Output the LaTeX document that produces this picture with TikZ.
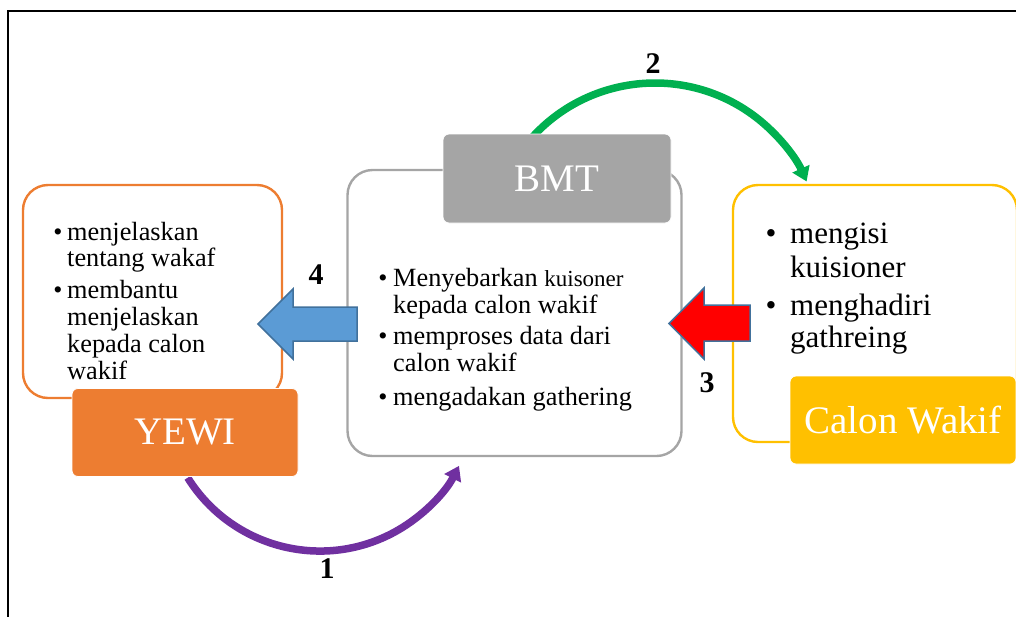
\documentclass[tikz,border=0pt]{standalone}
\usepackage{fontspec}
\setmainfont{Liberation Serif}
\usetikzlibrary{arrows.meta}
\definecolor{cOrange}{HTML}{ED7D31}
\definecolor{cGray}{HTML}{A5A5A5}
\definecolor{cYellow}{HTML}{FFC000}
\definecolor{cPurple}{HTML}{7030A0}
\definecolor{cGreen}{HTML}{00B050}
\definecolor{cBlue}{HTML}{5B9BD5}
\definecolor{cEdge}{HTML}{41719C}
\definecolor{cRed}{HTML}{FF0000}
\begin{document}
\begin{tikzpicture}[x=1pt,y=-1pt,
  outlinebox/.style={draw=#1, line width=2.4pt, fill=white, rounded corners=25pt, inner sep=0pt},
  labelbox/.style={fill=#1, draw=white, line width=0.8pt, rounded corners=6pt, inner sep=0pt,
     minimum width=226pt, minimum height=88pt, text=white, font=\fontsize{39}{44}\selectfont},
  curvearrow/.style={draw=#1, line width=7.5pt, -{Triangle[length=14pt,width=18pt]}},
  blockarrow/.style={fill=#1, draw=cEdge, line width=1.5pt, line join=miter},
  ltext/.style={anchor=base west, inner sep=0pt, font=\fontsize{26.3}{28}\selectfont},
  ctext/.style={anchor=base west, inner sep=0pt, font=\fontsize{26.3}{28}\selectfont},
  rtext/.style={anchor=base west, inner sep=0pt, font=\fontsize{31}{33}\selectfont},
  lbul/.style={anchor=base, inner sep=0pt, font=\fontsize{26}{28}\selectfont},
  cbul/.style={anchor=base, inner sep=0pt, font=\fontsize{26}{28}\selectfont},
  rbul/.style={anchor=base, inner sep=0pt, font=\fontsize{31}{33}\selectfont},
  numlabel/.style={inner sep=0pt, font=\fontsize{30}{32}\selectfont\bfseries}
]
\useasboundingbox (0,0) rectangle (1016,616);
\clip (0,0) rectangle (1016,616);
% frame
\coordinate (fTL) at (8,11);
\coordinate (fTR) at (1020,11);
\coordinate (fBL) at (8,620);
\draw[line width=2.6pt] (fTR) -- (fTL) -- (fBL);

% curved arrows
\coordinate (p1s) at (187.7,477.7);
\draw[curvearrow=cPurple] (p1s) arc[start angle=148, end angle=27, radius=156];
\coordinate (p2s) at (527.8,142.3);
\draw[curvearrow=cGreen] (p2s) arc[start angle=-140, end angle=-24, radius=166];

% outline boxes
\node[outlinebox=cOrange, minimum width=259pt, minimum height=213pt] (leftbox) at (152.5,291.5) {};
\node[outlinebox=cGray, minimum width=334pt, minimum height=286pt] (centerbox) at (514.5,313) {};
\node[outlinebox=cYellow, minimum width=284pt, minimum height=257pt] (rightbox) at (875,313.5) {};

% label boxes
\node[labelbox=cOrange] (yewi) at (185,432.5) {YEWI};
\node[labelbox=cGray, minimum width=228pt, minimum height=89pt] (bmt) at (557,178.5) {BMT};
\node[labelbox=cYellow] (calon) at (903,420) {Calon Wakif};

% block arrows
\coordinate (a4tip) at (258,324);
\draw[blockarrow=cBlue] (a4tip) -- (293,289) -- (293,307) -- (357,307) -- (357,341) -- (293,341) -- (293,359) -- cycle;
\coordinate (a3tip) at (669,323.5);
\draw[blockarrow=cRed] (a3tip) -- (704,288) -- (704,305) -- (750,305) -- (750,341) -- (704,341) -- (704,359) -- cycle;

% left box text
\node[lbul] (lb1) at (58,240) {•};
\node[ltext] (lt1) at (67,240) {menjelaskan};
\node[ltext] (lt2) at (67,266) {tentang wakaf};
\node[lbul] (lb2) at (58,298) {•};
\node[ltext] (lt3) at (67,298) {membantu};
\node[ltext] (lt4) at (67,325) {menjelaskan};
\node[ltext] (lt5) at (67,352) {kepada calon};
\node[ltext] (lt6) at (67,379) {wakif};

% center box text
\node[cbul] (cb1) at (383,286) {•};
\node[ctext] (ct1) at (393,286) {Menyebarkan {\fontsize{23}{25}\selectfont kuisoner}};
\node[ctext] (ct2) at (393,313) {kepada calon wakif};
\node[cbul] (cb2) at (383,344) {•};
\node[ctext] (ct3) at (393,344) {memproses data dari};
\node[ctext] (ct4) at (393,371) {calon wakif};
\node[cbul] (cb3) at (383,405) {•};
\node[ctext] (ct5) at (393,405) {mengadakan gathering};

% right box text
\node[rbul] (rb1) at (771,243) {•};
\node[rtext] (rt1) at (790,243) {mengisi};
\node[rtext] (rt2) at (790,277) {kuisioner};
\node[rbul] (rb2) at (771,315) {•};
\node[rtext] (rt3) at (790,315) {menghadiri};
\node[rtext] (rt4) at (790,347) {gathreing};

% number labels
\node[numlabel] (n1) at (327,569) {1};
\node[numlabel] (n2) at (653,64) {2};
\node[numlabel] (n3) at (707,383) {3};
\node[numlabel] (n4) at (316,275) {4};
\end{tikzpicture}
\end{document}
